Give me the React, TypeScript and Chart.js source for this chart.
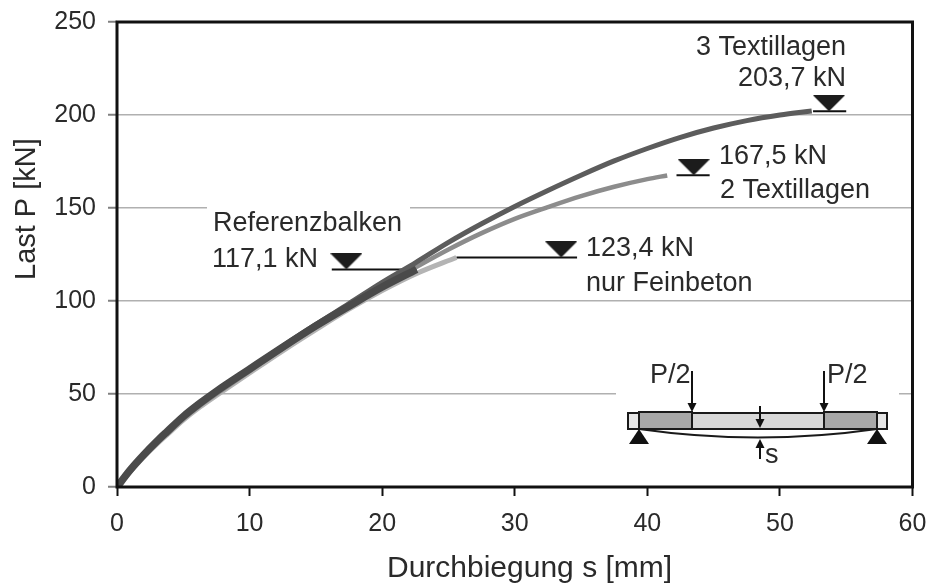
import { useEffect, useRef } from "react";
import { Chart, registerables } from "chart.js";

Chart.register(...registerables);

const FONT = "'Liberation Sans', Arial, sans-serif";
const INK = "#2a2a2a";

const xTicks = [0, 10, 20, 30, 40, 50, 60];
const yTicks = [0, 50, 100, 150, 200, 250];

const drei = [[0,0],[1,9.2],[2,17.2],[3,24.5],[3.75,29.6],[5,37.9],[6.25,45],[7.5,51.5],[10,63.6],[12.5,75.7],[15,87.4],[17.5,98.6],[20,110],[22.5,120.5],[25,131.5],[27.5,141.5],[30,150.8],[32.5,159.4],[35,167.6],[37.5,175.3],[40,182],[42.5,188],[45,193],[47.5,197],[50,200],[52.4,202.2]];
const zwei = [[0,0],[1,8.6],[2,16.4],[3,23.5],[3.75,28.4],[5,36.6],[6.25,43.7],[7.5,50],[10,62.3],[12.5,74.4],[15,86],[17.5,97.2],[20,108],[22.5,118],[25,127.7],[27.5,136.5],[30,144.2],[32.5,150.5],[35,156.4],[37.5,161.4],[40,165.5],[41.5,167.5]];
const fein = [[0,0],[1,8.3],[2,16],[3,23],[3.75,27.9],[5,36],[6.25,43],[7.5,49.2],[10,61.3],[12.5,73.2],[15,84.6],[17.5,95.6],[20,105.6],[22.6,114.8],[25.6,123.4]];
const referenz = [[0,0],[1,9.2],[2,17.2],[3,24.5],[3.75,29.6],[5,37.9],[6.25,45],[7.5,51.5],[10,63.4],[12.5,75.2],[15,86.6],[17.5,97.2],[20,107.5],[22.6,117]];

const levelRef = [[16.2,117],[22.6,117]];
const levelFein = [[25.6,123.4],[34.7,123.4]];
const levelZwei = [[42.2,167.6],[44.7,167.6]];
const levelDrei = [[52.5,202],[55,202]];
const failMarks = [[17.3,117],[33.5,123.4],[43.5,167.6],[53.7,202]];

const notes: [string, number, number, CanvasTextAlign][] = [
  ["Referenzbalken", 213, 230.5, "left"],
  ["117,1 kN", 212, 267, "left"],
  ["123,4 kN", 586, 256, "left"],
  ["nur Feinbeton", 586, 291, "left"],
  ["167,5 kN", 719, 163.5, "left"],
  ["2 Textillagen", 720, 197.5, "left"],
  ["3 Textillagen", 846, 55, "right"],
  ["203,7 kN", 846, 86, "right"],
  ["P/2", 650, 383, "left"],
  ["P/2", 827, 383, "left"],
  ["s", 765, 463, "left"],
];

function triangleImage() {
  const c = document.createElement("canvas");
  c.width = 32;
  c.height = 32;
  const g = c.getContext("2d")!;
  g.fillStyle = "#1c1c1c";
  g.beginPath();
  g.moveTo(0, 0);
  g.lineTo(32, 0);
  g.lineTo(16, 16);
  g.closePath();
  g.fill();
  return c;
}

const areaFit = {
  id: "areaFit",
  afterLayout(chart: any) {
    const right = 912.5;
    const a = chart.chartArea;
    const x = chart.scales.x;
    a.right = right;
    a.width = right - a.left;
    x.right = right;
    x.width = right - x.left;
    x.configure();
  },
};

const backdrop = {
  id: "backdrop",
  beforeDatasetsDraw(chart: any) {
    const g = chart.ctx;
    g.save();
    g.fillStyle = "#fff";
    g.fillRect(207, 200, 203, 14);
    g.fillRect(616, 385, 283, 16);
    g.restore();
  },
};

function arrow(g: any, x: number, y0: number, y1: number) {
  const dir = y1 > y0 ? 1 : -1;
  g.strokeStyle = "#111";
  g.lineWidth = 2;
  g.beginPath();
  g.moveTo(x, y0);
  g.lineTo(x, y1 - dir * 6);
  g.stroke();
  g.fillStyle = "#111";
  g.beginPath();
  g.moveTo(x - 4.5, y1 - dir * 9);
  g.lineTo(x + 4.5, y1 - dir * 9);
  g.lineTo(x, y1);
  g.closePath();
  g.fill();
}

const overlay = {
  id: "overlay",
  afterDatasetsDraw(chart: any) {
    const g = chart.ctx;
    const a = chart.chartArea;
    g.save();
    // beam sketch
    g.lineWidth = 2;
    g.strokeStyle = "#1a1a1a";
    g.fillStyle = "#e6e6e6";
    g.fillRect(628, 413, 259, 16);
    g.strokeRect(628, 413, 259, 16);
    g.fillStyle = "#a8a8a8";
    g.fillRect(639, 412, 53, 17);
    g.strokeRect(639, 412, 53, 17);
    g.fillRect(824, 412, 53, 17);
    g.strokeRect(824, 412, 53, 17);
    g.fillStyle = "#d8d8d8";
    g.fillRect(692, 413, 132, 16);
    g.strokeRect(692, 413, 132, 16);
    g.beginPath();
    g.moveTo(639, 429);
    g.quadraticCurveTo(758, 446, 877, 429);
    g.stroke();
    g.fillStyle = "#111";
    for (const x of [639, 877]) {
      g.beginPath();
      g.moveTo(x, 429);
      g.lineTo(x + 10, 444);
      g.lineTo(x - 10, 444);
      g.closePath();
      g.fill();
    }
    arrow(g, 692, 371, 412);
    arrow(g, 824, 371, 412);
    arrow(g, 760, 406, 428);
    arrow(g, 760, 459, 439);
    // frame
    g.strokeStyle = "#111";
    g.lineWidth = 3;
    g.strokeRect(a.left, a.top, a.right - a.left, a.bottom - a.top);
    // notes
    g.fillStyle = INK;
    g.font = `27px ${FONT}`;
    g.textBaseline = "alphabetic";
    for (const [t, x, y, al] of notes) {
      g.textAlign = al;
      g.fillText(t, x, y);
    }
    // axis titles, off-centre in the reference
    g.font = `30px ${FONT}`;
    g.textAlign = "left";
    g.fillText("Durchbiegung s [mm]", 387, 577);
    g.font = `29px ${FONT}`;
    g.translate(35, 280);
    g.rotate(-Math.PI / 2);
    g.fillText("Last P [kN]", 0, 0);
    g.restore();
  },
};

const line = (data: number[][], color: string, width: number) => ({
  data: data.map(([x, y]) => ({ x, y })),
  borderColor: color,
  borderWidth: width,
  pointRadius: 0,
  showLine: true,
  cubicInterpolationMode: "monotone",
  borderCapStyle: "butt" as const,
});

export default function App() {
  const ref = useRef<HTMLCanvasElement>(null);
  useEffect(() => {
    const tri = triangleImage();
    const chart = new Chart(ref.current!, {
      type: "scatter",
      data: {
        datasets: [
          {
            data: failMarks.map(([x, y]) => ({ x, y })),
            pointStyle: tri,
            pointRadius: 16,
            showLine: false,
          },
          line(referenz, "#4a4a4a", 7.5),
          line(drei, "#5c5c5c", 5),
          line(zwei, "#8c8c8c", 4.5),
          line(fein, "#b4b4b4", 5),
          line(levelRef, "#111", 2),
          line(levelFein, "#111", 2),
          line(levelZwei, "#111", 2),
          line(levelDrei, "#111", 2),
        ] as any,
      },
      options: {
        animation: false,
        responsive: false,
        layout: { padding: { left: 0, top: 22, right: 14.5, bottom: 0 } },
        plugins: { legend: { display: false }, tooltip: { enabled: false } },
        scales: {
          x: {
            type: "linear",
            min: 0,
            max: 60,
            afterBuildTicks: (s: any) => { s.ticks = xTicks.map((value) => ({ value })); },
            afterFit: (s: any) => { s.height = 96; s.paddingLeft = 0; s.paddingRight = 0; },
            grid: { drawOnChartArea: false, tickColor: "#111", tickWidth: 2, tickLength: 9 },
            border: { display: false },
            ticks: { color: INK, font: { family: FONT, size: 25 }, padding: 13, maxRotation: 0 },
            title: { display: false },
          },
          y: {
            type: "linear",
            min: 0,
            max: 250,
            afterBuildTicks: (s: any) => { s.ticks = yTicks.map((value) => ({ value })); },
            afterFit: (s: any) => { s.width = 117; s.paddingTop = 0; s.paddingBottom = 0; },
            grid: { color: "#b0b0b0", lineWidth: 1.5, tickColor: "#808080", tickWidth: 2, tickLength: 9 },
            border: { display: false },
            ticks: { color: INK, font: { family: FONT, size: 25 }, padding: 12 },
            title: { display: false },
          },
        },
      },
      plugins: [areaFit, backdrop, overlay],
    } as any);
    return () => chart.destroy();
  }, []);
  return (
    <canvas
      ref={ref}
      width={927}
      height={583}
      style={{ position: "fixed", left: 0, top: 0, width: 927, height: 583, background: "#fff" }}
    />
  );
}
